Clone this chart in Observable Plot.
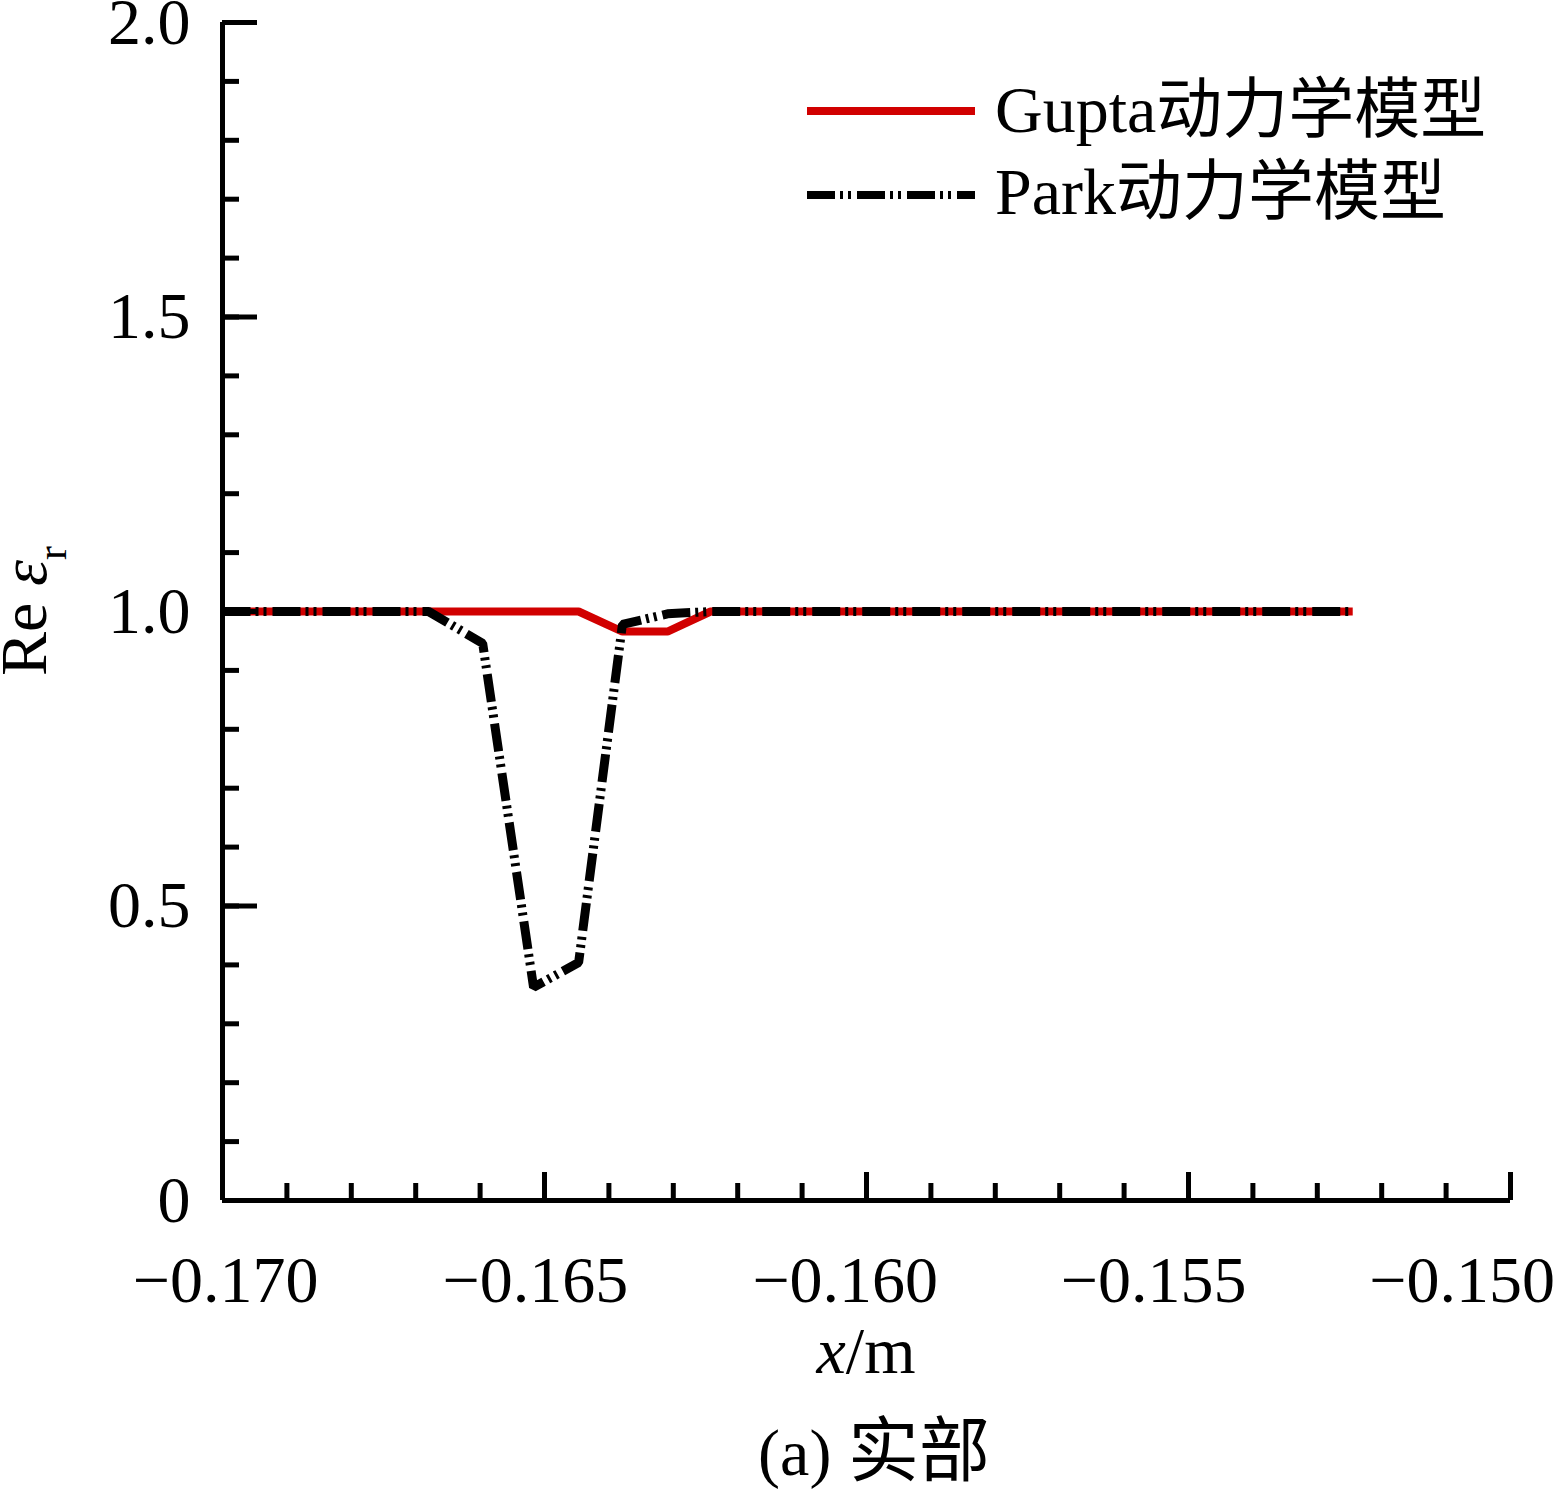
<!DOCTYPE html>
<html><head><meta charset="utf-8">
<script src="https://cdn.jsdelivr.net/npm/d3@7"></script>
<script src="https://cdn.jsdelivr.net/npm/@observablehq/plot@0.6"></script>
<style>
body{margin:0;background:#fff;}
#wrap{position:relative;width:1555px;height:1489px;font-family:"Liberation Serif","Times New Roman","Noto Sans CJK SC",serif;color:#000;overflow:hidden;}
.txt{position:absolute;font-size:66px;line-height:66px;white-space:nowrap;}
</style></head><body>
<div id="wrap">
  <div id="chart" style="position:absolute;left:0;top:0;"></div>
  <svg style="position:absolute;left:0;top:0;" width="1555" height="240">
    <line x1="807" y1="111" x2="975" y2="111" stroke="#d10000" stroke-width="8"/>
    <line x1="807" y1="195" x2="975" y2="195" stroke="#000" stroke-width="8" stroke-dasharray="28,5,3,5,3,6"/>
  </svg>
  <div class="txt" id="leg1" style="left:995px;top:77px;"></div>
  <div class="txt" id="leg2" style="left:995px;top:159px;"></div>
  <div class="txt" style="left:26px;top:611px;line-height:46px;transform:translate(-50%,-50%) rotate(-90deg);">Re <i>ε</i><sub style="font-size:42px;line-height:0;vertical-align:-20px;">r</sub></div>
  <div class="txt" style="left:222px;width:1288px;text-align:center;top:1318px;"><i>x</i>/m</div>
  <div class="txt" id="caption" style="left:230px;width:1288px;text-align:center;top:1418px;"></div>
</div>
<script>
// ---- data ----
const seriesNames = ["Gupta动力学模型", "Park动力学模型"];
const guptaX = [-0.1700, -0.16447, -0.16379, -0.16309, -0.16242, -0.15245];
const guptaY = [1.0, 1.0, 0.966, 0.966, 1.0, 1.0];
const parkX = [-0.1700, -0.16680, -0.16596, -0.16517, -0.16447, -0.16379, -0.16309, -0.16242, -0.15245];
const parkY = [1.0, 1.0, 0.946, 0.362, 0.404, 0.978, 0.996, 1.0, 1.0];
const xTicks = [-0.170, -0.165, -0.160, -0.155, -0.150];
const xTickLabels = ["−0.170", "−0.165", "−0.160", "−0.155", "−0.150"];
// where the reference centres its x tick labels
const xTickLabelPos = [-0.16995, -0.16514, -0.16033, -0.15554, -0.15075];
const yTicks = [0, 0.5, 1.0, 1.5, 2.0];
const yTickLabels = ["0", "0.5", "1.0", "1.5", "2.0"];
const xMinor = d3.range(0, 21).map(i => -0.170 + i * 0.001);
const yMinor = d3.range(0, 21).map(i => i * 0.1);
const captionText = "(a) 实部";

document.getElementById("leg1").textContent = seriesNames[0];
document.getElementById("leg2").textContent = seriesNames[1];
document.getElementById("caption").innerHTML = captionText.replace("实部", '<span style="font-size:71px">实部</span>');

const gupta = guptaX.map((x, i) => ({x, y: guptaY[i]}));
const park = parkX.map((x, i) => ({x, y: parkY[i]}));
const xLabels = xTickLabels.map((t, i) => ({x: xTickLabelPos[i], t}));
const yLab = new Map(yTicks.map((t, i) => [t, yTickLabels[i]]));

const chart = Plot.plot({
  width: 1555, height: 1320,
  marginLeft: 222, marginRight: 45, marginTop: 22, marginBottom: 120,
  x: {domain: [-0.170, -0.150], label: null},
  y: {domain: [0, 2], label: null},
  style: {fontFamily: '"Liberation Serif","Times New Roman",serif', fontSize: "66px", color: "#000", background: "#fff", overflow: "visible"},
  marks: [
    Plot.line(gupta, {x: "x", y: "y", stroke: "#d10000", strokeWidth: 8, strokeLinecap: "butt", strokeLinejoin: "miter"}),
    Plot.line(park, {x: "x", y: "y", stroke: "#000", strokeWidth: 9, strokeDasharray: "28,5,3,5,3,6", strokeLinecap: "butt", strokeLinejoin: "miter"}),
    Plot.axisX(xMinor, {tickSize: -17, strokeWidth: 5, fill: "none", label: null}),
    Plot.axisX(xTicks, {tickSize: -28, strokeWidth: 5, fill: "none", label: null}),
    Plot.text(xLabels, {x: "x", text: "t", frameAnchor: "bottom", dy: 55, lineAnchor: "top", fontSize: 66}),
    Plot.axisY(yMinor, {tickSize: -17, strokeWidth: 5, fill: "none", label: null}),
    Plot.axisY(yTicks, {tickSize: -35, strokeWidth: 5, fill: "none", label: null}),
    Plot.axisY(yTicks, {tickSize: 0, tickPadding: 32, tickFormat: d => yLab.get(d), label: null}),
    Plot.ruleX([-0.170], {strokeWidth: 5}),
    Plot.ruleY([0], {strokeWidth: 5})
  ]
});
document.getElementById("chart").appendChild(chart);
</script>
</body></html>
